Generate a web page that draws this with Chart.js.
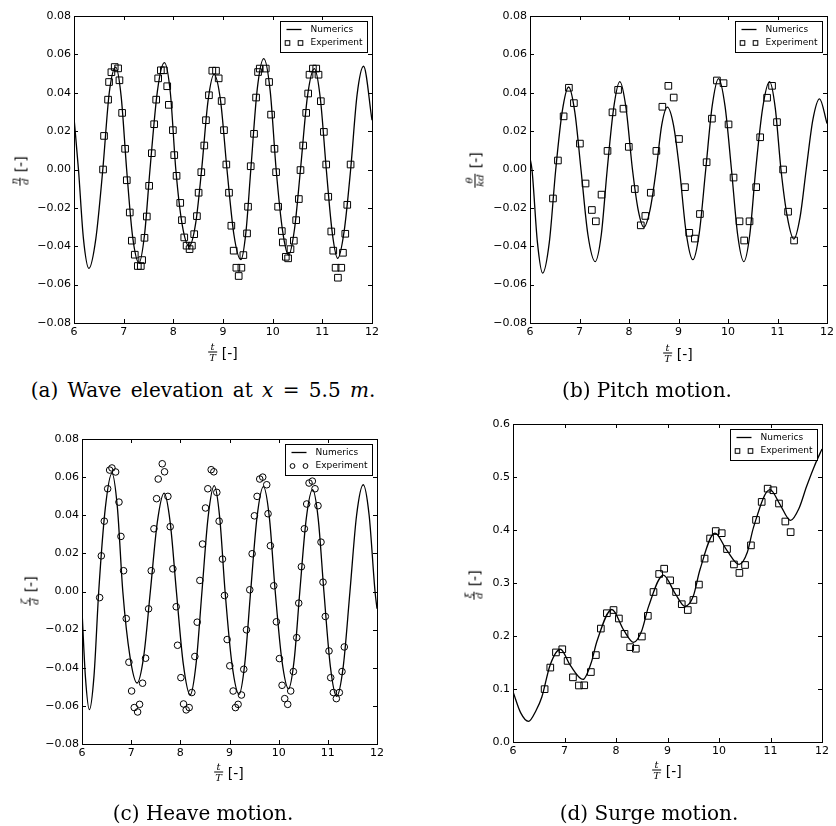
<!DOCTYPE html>
<html>
<head>
<meta charset="utf-8">
<script src="https://cdn.jsdelivr.net/npm/chart.js@4.4.1/dist/chart.umd.min.js"></script>
<style>
body { margin: 0; width: 836px; height: 826px; background: #fff; position: relative; overflow: hidden; }
canvas { position: absolute; }
.cap { position: absolute; font-family: 'DejaVu Serif'; font-size: 20px; line-height: 20px; white-space: nowrap; transform: translateX(-50%); }
.cap.wide { word-spacing: 3px; }
.lab { position: absolute; white-space: nowrap; font-family: 'DejaVu Sans'; font-size: 14px; line-height: 1; display: flex; align-items: center; color: #000; }
.ylab { transform: translate(-50%, -50%) rotate(-90deg); }
.xlab { transform: translate(-50%, -50%); }
.frac { display: inline-flex; flex-direction: column; align-items: center; font-family: 'DejaVu Serif'; font-style: italic; font-size: 10px; line-height: 1; margin-right: 5px; }
.frac .den { border-top: 1px solid #000; padding: 0 1px; }
</style>
</head>
<body>
<script>
// valeurs
const timeTicks = [6, 7, 8, 9, 10, 11, 12];
const motionTicks = [-0.08, -0.06, -0.04, -0.02, 0.00, 0.02, 0.04, 0.06, 0.08];
const surgeTicks = [0.0, 0.1, 0.2, 0.3, 0.4, 0.5, 0.6];
const legendLabels = ['Numerics', 'Experiment'];

// (a) élévation de la vague
const waveNumerics = [[6.00,0.027],[6.09,0.000],[6.19,-0.036],[6.30,-0.0515],[6.44,-0.036],[6.58,0.000],[6.71,0.040],[6.84,0.0534],[6.95,0.038],[7.06,0.000],[7.18,-0.035],[7.31,-0.0486],[7.42,-0.034],[7.53,0.000],[7.68,0.041],[7.82,0.0557],[7.94,0.040],[8.05,0.000],[8.18,-0.029],[8.32,-0.040],[8.45,-0.028],[8.57,0.000],[8.70,0.036],[8.82,0.0496],[8.95,0.036],[9.08,0.000],[9.22,-0.034],[9.36,-0.047],[9.46,-0.033],[9.56,0.000],[9.69,0.042],[9.82,0.0578],[9.95,0.041],[10.07,0.000],[10.20,-0.032],[10.32,-0.0446],[10.44,-0.031],[10.56,0.000],[10.70,0.038],[10.84,0.0526],[10.96,0.037],[11.08,0.000],[11.20,-0.033],[11.31,-0.0463],[11.44,-0.032],[11.57,0.000],[11.70,0.039],[11.83,0.0538],[12.00,0.0257]];
const waveExperiment = [[6.585,0.000],[6.605,0.0175],[6.686,0.0364],[6.706,0.0456],[6.753,0.0507],[6.82,0.0534],[6.888,0.0527],[6.915,0.0465],[6.969,0.0295],[7.029,0.0108],[7.063,-0.0056],[7.123,-0.0224],[7.164,-0.0371],[7.224,-0.0444],[7.285,-0.0503],[7.345,-0.0503],[7.372,-0.0472],[7.419,-0.0356],[7.466,-0.0245],[7.513,-0.0085],[7.567,0.0085],[7.614,0.0236],[7.655,0.0364],[7.695,0.0475],[7.749,0.0517],[7.809,0.0517],[7.877,0.0434],[7.91,0.0337],[7.991,0.0205],[8.018,0.0075],[8.065,-0.0033],[8.139,-0.0174],[8.173,-0.0264],[8.22,-0.0354],[8.267,-0.0397],[8.327,-0.0415],[8.374,-0.0397],[8.42,-0.0337],[8.475,-0.0243],[8.509,-0.0121],[8.563,-0.0014],[8.623,0.0125],[8.657,0.0257],[8.717,0.0387],[8.785,0.0515],[8.859,0.0515],[8.913,0.0475],[8.973,0.0357],[9.02,0.0205],[9.067,0.0026],[9.121,-0.0121],[9.168,-0.0293],[9.215,-0.0423],[9.269,-0.0512],[9.316,-0.0555],[9.37,-0.0512],[9.41,-0.0446],[9.484,-0.0333],[9.504,-0.0194],[9.558,0.0017],[9.625,0.0186],[9.666,0.0375],[9.706,0.0508],[9.74,0.0526],[9.861,0.0526],[9.928,0.0456],[9.968,0.0286],[10.036,0.0108],[10.069,-0.0014],[10.11,-0.0194],[10.184,-0.0321],[10.204,-0.038],[10.265,-0.0455],[10.311,-0.0463],[10.359,-0.0415],[10.426,-0.0371],[10.473,-0.0264],[10.527,-0.0154],[10.56,-0.0003],[10.614,0.0125],[10.675,0.0295],[10.715,0.0396],[10.742,0.0494],[10.81,0.0526],[10.877,0.0526],[10.923,0.0494],[10.97,0.0356],[11.031,0.0196],[11.078,0.0026],[11.119,-0.0142],[11.18,-0.0323],[11.22,-0.0423],[11.267,-0.0512],[11.314,-0.0564],[11.381,-0.0512],[11.415,-0.0434],[11.462,-0.0335],[11.502,-0.0184],[11.569,0.0026]];

// (b) tangage
const pitchNumerics = [[6.00,0.006],[6.04,0.000],[6.15,-0.038],[6.255,-0.054],[6.39,-0.038],[6.52,0.000],[6.65,0.030],[6.78,0.043],[6.905,0.030],[7.03,0.000],[7.17,-0.034],[7.317,-0.048],[7.44,-0.034],[7.56,0.000],[7.69,0.032],[7.814,0.0458],[7.94,0.032],[8.07,0.000],[8.185,-0.021],[8.30,-0.030],[8.425,-0.021],[8.55,0.000],[8.66,0.023],[8.775,0.0325],[8.90,0.023],[9.02,0.000],[9.155,-0.033],[9.29,-0.047],[9.42,-0.033],[9.55,0.000],[9.68,0.033],[9.81,0.0474],[9.94,0.033],[10.07,0.000],[10.195,-0.034],[10.32,-0.048],[10.44,-0.034],[10.56,0.000],[10.70,0.032],[10.84,0.0458],[10.955,0.032],[11.07,0.000],[11.20,-0.025],[11.33,-0.0363],[11.455,-0.025],[11.58,0.000],[11.715,0.026],[11.85,0.0368],[12.00,0.024]];
const pitchExperiment = [[6.464,-0.0151],[6.564,0.0047],[6.679,0.0277],[6.786,0.0426],[6.887,0.0346],[7.008,0.0135],[7.122,-0.0073],[7.25,-0.0211],[7.33,-0.027],[7.445,-0.0131],[7.566,0.0097],[7.666,0.0298],[7.78,0.0415],[7.888,0.0317],[7.996,0.0118],[8.117,-0.0102],[8.238,-0.0291],[8.33,-0.0242],[8.44,-0.0121],[8.553,0.0097],[8.674,0.0327],[8.795,0.0436],[8.903,0.0375],[9.01,0.0159],[9.131,-0.0092],[9.218,-0.033],[9.33,-0.036],[9.433,-0.0232],[9.568,0.0038],[9.675,0.0265],[9.776,0.0464],[9.91,0.045],[10.011,0.0235],[10.112,-0.0042],[10.233,-0.027],[10.327,-0.037],[10.435,-0.027],[10.569,-0.0092],[10.65,0.0168],[10.79,0.0374],[10.89,0.0436],[10.99,0.0247],[11.113,0.000],[11.214,-0.022],[11.335,-0.037]];

// (c) pilonnement
const heaveNumerics = [[6.00,-0.010],[6.07,-0.045],[6.15,-0.062],[6.245,-0.044],[6.34,0.000],[6.475,0.044],[6.61,0.062],[6.72,0.044],[6.83,0.000],[6.975,-0.034],[7.12,-0.048],[7.255,-0.034],[7.39,0.000],[7.53,0.036],[7.67,0.0516],[7.795,0.036],[7.92,0.000],[8.06,-0.038],[8.20,-0.0543],[8.32,-0.038],[8.44,0.000],[8.565,0.039],[8.69,0.0555],[8.80,0.039],[8.91,0.000],[9.05,-0.038],[9.195,-0.054],[9.31,-0.038],[9.43,0.000],[9.56,0.039],[9.69,0.055],[9.81,0.039],[9.93,0.000],[10.065,-0.036],[10.20,-0.051],[10.315,-0.036],[10.43,0.000],[10.56,0.038],[10.69,0.0534],[10.805,0.038],[10.92,0.000],[11.05,-0.039],[11.18,-0.055],[11.315,-0.039],[11.45,0.000],[11.585,0.040],[11.72,0.056],[11.84,0.040],[11.96,0.000],[12.00,-0.009]];
const heaveExperiment = [[6.359,-0.0032],[6.393,0.0187],[6.454,0.0369],[6.522,0.0539],[6.562,0.0637],[6.609,0.0648],[6.684,0.0627],[6.752,0.0469],[6.792,0.0289],[6.846,0.0109],[6.9,-0.0142],[6.954,-0.0371],[7.009,-0.0522],[7.063,-0.0609],[7.131,-0.0632],[7.171,-0.0592],[7.232,-0.0481],[7.293,-0.035],[7.354,-0.0091],[7.408,0.0109],[7.463,0.0329],[7.517,0.0487],[7.55,0.059],[7.632,0.067],[7.679,0.0628],[7.747,0.0499],[7.794,0.034],[7.848,0.0119],[7.916,-0.008],[7.943,-0.0282],[8.011,-0.0452],[8.065,-0.059],[8.119,-0.0621],[8.18,-0.0609],[8.234,-0.053],[8.295,-0.0341],[8.343,-0.0161],[8.397,0.0058],[8.451,0.0249],[8.512,0.0438],[8.559,0.0539],[8.627,0.0639],[8.681,0.0628],[8.742,0.052],[8.789,0.0369],[8.857,0.017],[8.898,-0.0021],[8.952,-0.0252],[9.006,-0.039],[9.074,-0.0522],[9.121,-0.0609],[9.175,-0.0592],[9.243,-0.0543],[9.29,-0.0408],[9.345,-0.0201],[9.412,0.0009],[9.46,0.0198],[9.507,0.0397],[9.561,0.0499],[9.615,0.059],[9.676,0.06],[9.757,0.056],[9.784,0.0408],[9.832,0.024],[9.9,0.003],[9.954,-0.0159],[10.015,-0.0352],[10.069,-0.0492],[10.123,-0.0562],[10.184,-0.0592],[10.245,-0.0522],[10.299,-0.042],[10.367,-0.0242],[10.408,-0.0061],[10.462,0.013],[10.523,0.0329],[10.57,0.0459],[10.618,0.0569],[10.685,0.0579],[10.739,0.0539],[10.8,0.045],[10.861,0.0259],[10.902,0.0049],[10.949,-0.0131],[11.024,-0.0312],[11.058,-0.0452],[11.112,-0.053],[11.173,-0.0562],[11.234,-0.053],[11.288,-0.042],[11.335,-0.0291]];

// (d) cavalement
const surgeNumerics = [[6.00,0.095],[6.15,0.055],[6.30,0.039],[6.45,0.060],[6.56,0.085],[6.72,0.145],[6.92,0.175],[7.11,0.145],[7.36,0.118],[7.52,0.150],[7.63,0.190],[7.92,0.250],[8.15,0.211],[8.34,0.188],[8.50,0.210],[8.63,0.255],[8.92,0.315],[9.15,0.280],[9.34,0.256],[9.50,0.275],[9.63,0.325],[9.92,0.394],[10.15,0.362],[10.39,0.335],[10.55,0.358],[10.67,0.405],[10.99,0.476],[11.18,0.449],[11.39,0.418],[11.55,0.440],[11.70,0.482],[11.85,0.520],[12.00,0.553]];
const surgeExperiment = [[6.614,0.0997],[6.724,0.1404],[6.834,0.169],[6.957,0.175],[7.06,0.153],[7.164,0.122],[7.28,0.1066],[7.383,0.107],[7.512,0.132],[7.609,0.164],[7.706,0.214],[7.823,0.243],[7.952,0.249],[8.056,0.233],[8.166,0.204],[8.276,0.179],[8.385,0.176],[8.502,0.199],[8.618,0.238],[8.728,0.283],[8.838,0.317],[8.935,0.327],[9.051,0.305],[9.167,0.283],[9.277,0.260],[9.394,0.249],[9.504,0.268],[9.61,0.297],[9.72,0.346],[9.827,0.384],[9.937,0.398],[10.053,0.394],[10.156,0.364],[10.29,0.335],[10.396,0.319],[10.506,0.334],[10.62,0.371],[10.719,0.419],[10.829,0.453],[10.945,0.478],[11.055,0.475],[11.165,0.450],[11.288,0.416],[11.391,0.396]];

// mise en page des quatre panneaux (zone de tracé en px)
const panels = [
    { area: [74, 16, 372, 323], num: waveNumerics, exp: waveExperiment, marker: 'rect', yTicks: motionTicks, digits: 2,
      ylab: [20, 171, 'η', 'd'], xlab: [223, 352], cap: [203, 380, '(a) Wave elevation at <i>x</i>&nbsp;=&nbsp;5.5 <i>m</i>.', 'wide'] },
    { area: [530, 16, 827, 323], num: pitchNumerics, exp: pitchExperiment, marker: 'rect', yTicks: motionTicks, digits: 2,
      ylab: [475, 170, 'θ', 'kd'], xlab: [678, 353], cap: [647, 380, '(b) Pitch motion.', ''] },
    { area: [82, 439, 377, 744], num: heaveNumerics, exp: heaveExperiment, marker: 'circle', yTicks: motionTicks, digits: 2,
      ylab: [30, 591, 'ζ', 'd'], xlab: [229, 772], cap: [203, 803, '(c) Heave motion.', ''] },
    { area: [513, 424, 822, 742], num: surgeNumerics, exp: surgeExperiment, marker: 'rect', yTicks: surgeTicks, digits: 1,
      ylab: [474, 585, 'ξ', 'd'], xlab: [667, 770], cap: [649, 803, '(d) Surge motion.', ''] }
];

const PAD_L = 60, PAD_T = 10, PAD_R = 10, PAD_B = 30;

// cadre + graduations vers l'intérieur (style matplotlib)
const frameTicks = {
    id: 'frameTicks',
    afterDatasetsDraw(chart) {
        const { ctx, chartArea: a, scales } = chart;
        ctx.save();
        ctx.strokeStyle = '#000';
        ctx.lineWidth = 1;
        ctx.strokeRect(a.left + 0.5, a.top + 0.5, a.right - a.left, a.bottom - a.top);
        ctx.beginPath();
        scales.x.ticks.forEach(t => {
            const p = Math.round(scales.x.getPixelForValue(t.value)) + 0.5;
            ctx.moveTo(p, a.bottom); ctx.lineTo(p, a.bottom - 4);
            ctx.moveTo(p, a.top); ctx.lineTo(p, a.top + 4);
        });
        scales.y.ticks.forEach(t => {
            const p = Math.round(scales.y.getPixelForValue(t.value)) + 0.5;
            ctx.moveTo(a.left, p); ctx.lineTo(a.left + 4, p);
            ctx.moveTo(a.right, p); ctx.lineTo(a.right - 4, p);
        });
        ctx.stroke();
        ctx.restore();
    }
};

// légende encadrée, deux marqueurs pour l'expérience
const boxLegend = {
    id: 'boxLegend',
    afterDatasetsDraw(chart, args, opts) {
        const { ctx, chartArea } = chart;
        ctx.save();
        ctx.font = '9px "DejaVu Sans"';
        const w = Math.round(30 + ctx.measureText(legendLabels[1]).width + 5);
        const h = 31;
        const x0 = Math.round(chartArea.right - 5 - w) + 0.5;
        const y0 = Math.round(chartArea.top + 5) + 0.5;
        ctx.fillStyle = '#fff';
        ctx.fillRect(x0, y0, w, h);
        ctx.strokeStyle = '#000';
        ctx.lineWidth = 1;
        ctx.strokeRect(x0, y0, w, h);

        ctx.lineWidth = 1.3;
        ctx.beginPath();
        ctx.moveTo(x0 + 6, y0 + 8);
        ctx.lineTo(x0 + 21, y0 + 8);
        ctx.stroke();

        ctx.lineWidth = 1;
        [x0 + 7, x0 + 20].forEach(mx => {
            if (opts.marker === 'circle') {
                ctx.beginPath();
                ctx.arc(mx, y0 + 21.5, 2.4, 0, Math.PI * 2);
                ctx.stroke();
            } else {
                ctx.strokeRect(mx - 2.3, y0 + 19.2, 4.6, 4.6);
            }
        });

        ctx.fillStyle = '#000';
        ctx.textBaseline = 'middle';
        ctx.fillText(legendLabels[0], x0 + 30, y0 + 8);
        ctx.fillText(legendLabels[1], x0 + 30, y0 + 21.5);
        ctx.restore();
    }
};

function fmt(digits) {
    return function(value) {
        const v = Math.round(value * 1000) / 1000;
        return (v < 0 ? '\u2212' : '') + Math.abs(v).toFixed(digits);
    };
}

function addText(p) {
    const y = document.createElement('div');
    y.className = 'lab ylab';
    y.style.left = p.ylab[0] + 'px';
    y.style.top = p.ylab[1] + 'px';
    y.innerHTML = `<span class="frac"><span>${p.ylab[2]}</span><span class="den">${p.ylab[3]}</span></span><span>[-]</span>`;
    document.body.appendChild(y);

    const x = document.createElement('div');
    x.className = 'lab xlab';
    x.style.left = p.xlab[0] + 'px';
    x.style.top = p.xlab[1] + 'px';
    x.innerHTML = '<span class="frac"><span>t</span><span class="den">T</span></span><span>[-]</span>';
    document.body.appendChild(x);

    const c = document.createElement('div');
    c.className = 'cap ' + p.cap[3];
    c.style.left = p.cap[0] + 'px';
    c.style.top = p.cap[1] + 'px';
    c.innerHTML = p.cap[2];
    document.body.appendChild(c);
}

function createPanel(p) {
    const [L, T, R, B] = p.area;
    const canvas = document.createElement('canvas');
    const w = R - L + PAD_L + PAD_R;
    const h = B - T + PAD_T + PAD_B;
    canvas.width = w;
    canvas.height = h;
    canvas.style.left = (L - PAD_L) + 'px';
    canvas.style.top = (T - PAD_T) + 'px';
    canvas.style.width = w + 'px';
    canvas.style.height = h + 'px';
    document.body.appendChild(canvas);

    const tickFont = { family: 'DejaVu Sans', size: 11 };
    const yMin = p.yTicks[0], yMax = p.yTicks[p.yTicks.length - 1];

    new Chart(canvas.getContext('2d'), {
        type: 'line',
        data: {
            datasets: [
                {
                    label: legendLabels[0],
                    data: p.num.map(([x, y]) => ({ x, y })),
                    borderColor: '#000',
                    borderWidth: 1.3,
                    pointRadius: 0,
                    fill: false,
                    cubicInterpolationMode: 'monotone'
                },
                {
                    label: legendLabels[1],
                    data: p.exp.map(([x, y]) => ({ x, y })),
                    showLine: false,
                    pointStyle: p.marker,
                    pointRadius: p.marker === 'circle' ? 3.3 : 4.7,
                    pointBorderWidth: 1,
                    borderColor: '#000',
                    backgroundColor: 'rgba(0,0,0,0)'
                }
            ]
        },
        options: {
            responsive: false,
            animation: false,
            devicePixelRatio: 1,
            layout: { padding: { left: 0, top: PAD_T, right: PAD_R, bottom: 0 } },
            plugins: {
                legend: { display: false },
                tooltip: { enabled: false },
                boxLegend: { marker: p.marker }
            },
            scales: {
                x: {
                    type: 'linear',
                    min: timeTicks[0],
                    max: timeTicks[timeTicks.length - 1],
                    afterBuildTicks: s => { s.ticks = timeTicks.map(v => ({ value: v })); },
                    afterFit: s => { s.height = PAD_B; },
                    grid: { display: false, drawTicks: false },
                    border: { display: false },
                    ticks: { padding: 3, maxRotation: 0, autoSkip: false, color: '#000', font: tickFont }
                },
                y: {
                    type: 'linear',
                    min: yMin,
                    max: yMax,
                    afterBuildTicks: s => { s.ticks = p.yTicks.map(v => ({ value: v })); },
                    afterFit: s => { s.width = PAD_L; },
                    grid: { display: false, drawTicks: false },
                    border: { display: false },
                    ticks: { padding: 3, color: '#000', font: tickFont, callback: fmt(p.digits) }
                }
            }
        },
        plugins: [frameTicks, boxLegend]
    });

    addText(p);
}

panels.forEach(createPanel);
</script>
</body>
</html>
